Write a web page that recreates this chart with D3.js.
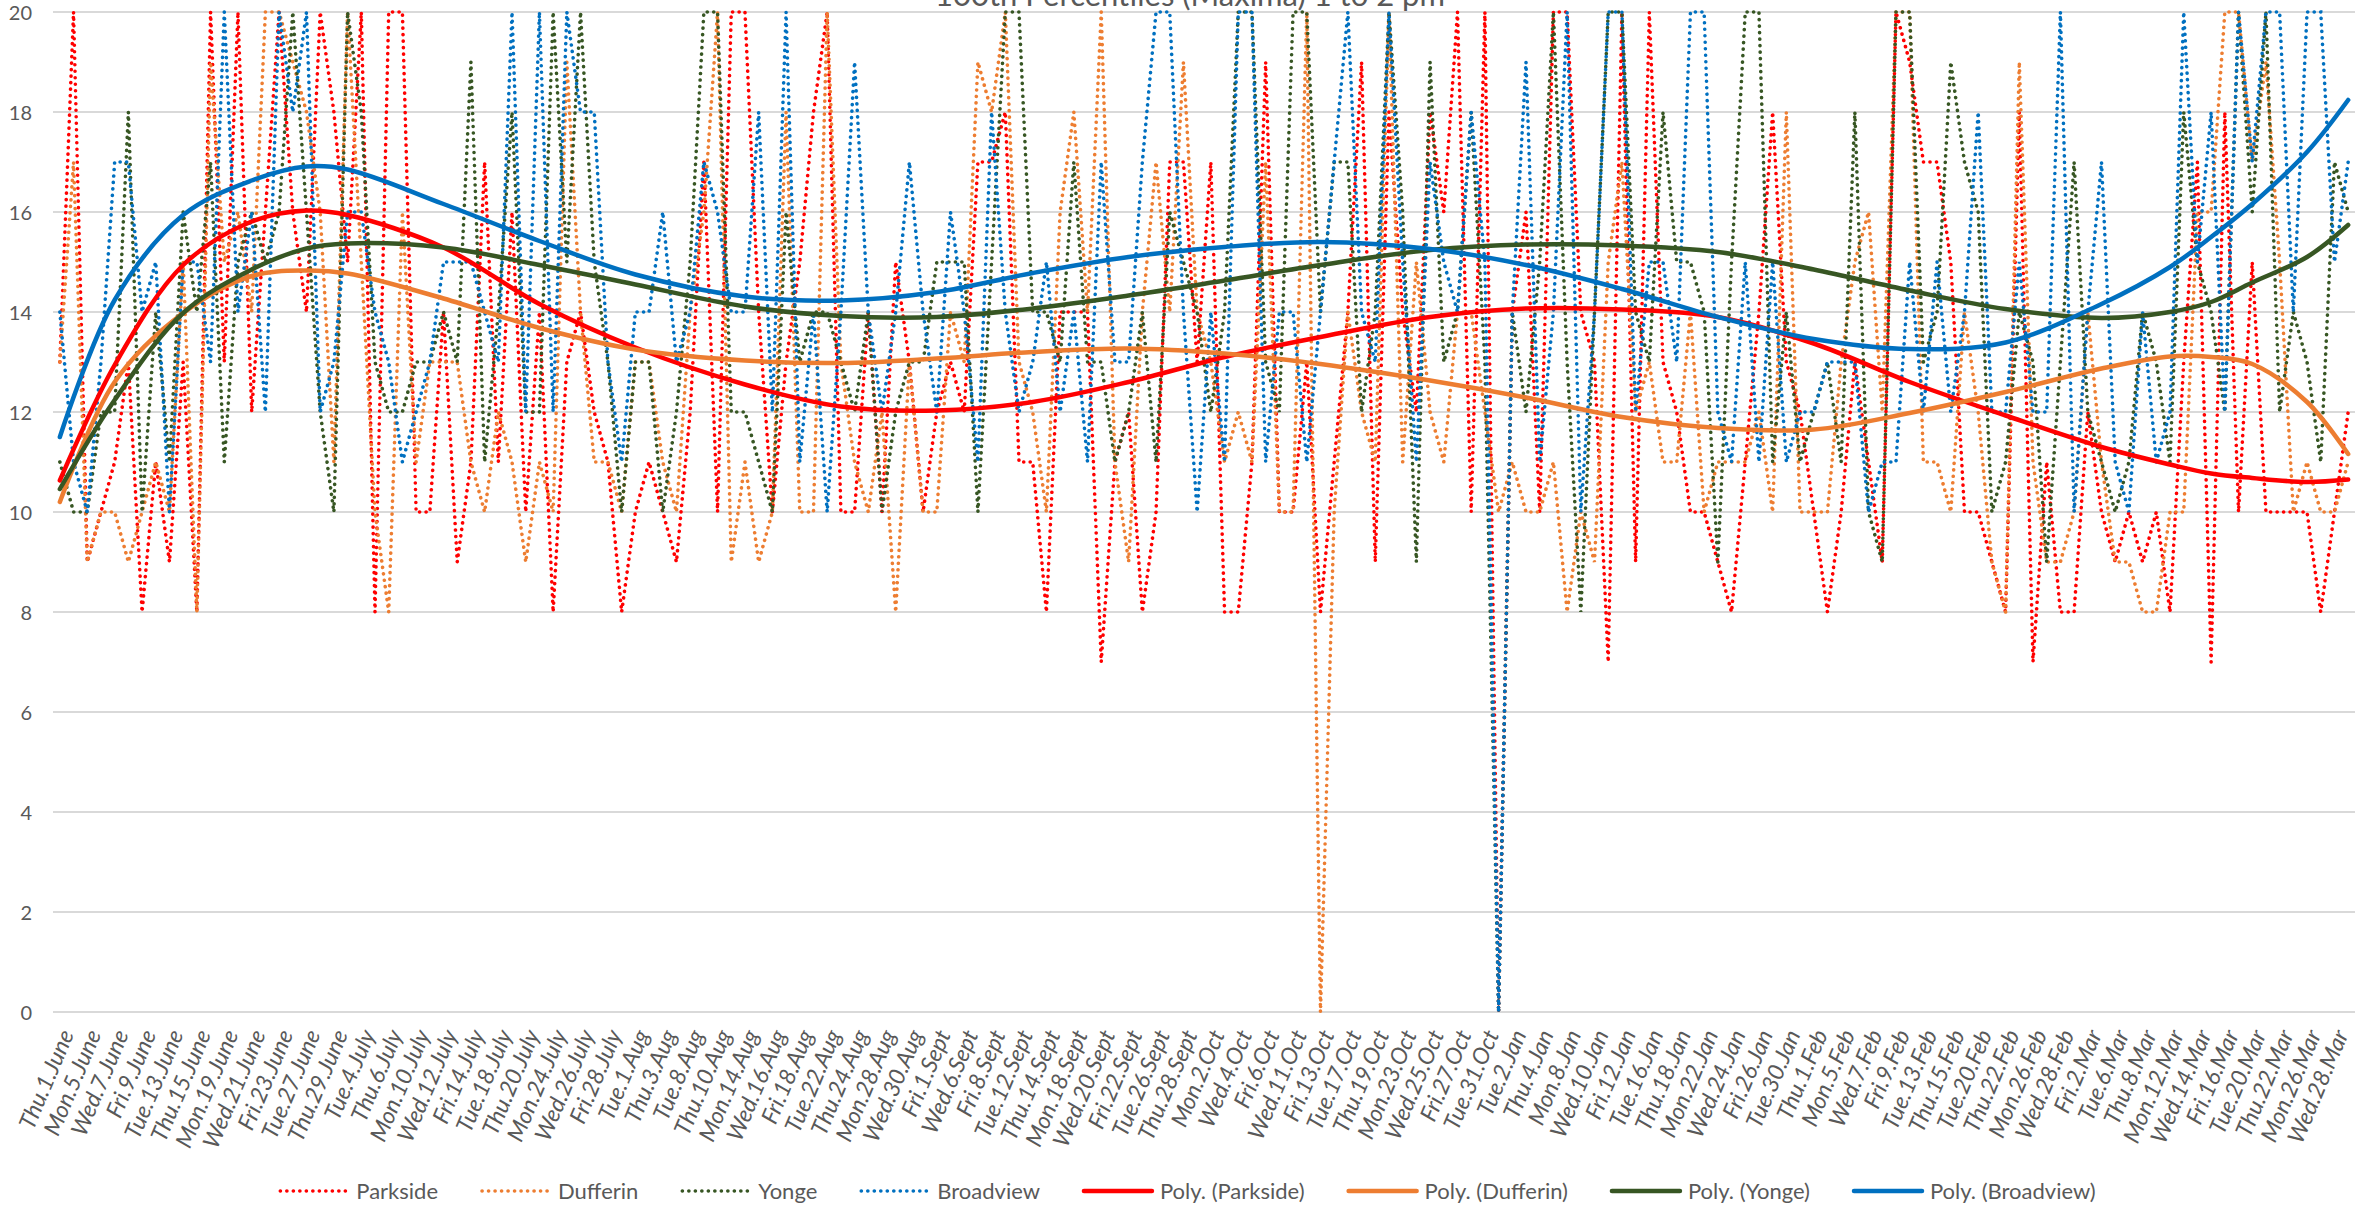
<!DOCTYPE html>
<html><head><meta charset="utf-8">
<script src="https://cdn.jsdelivr.net/npm/d3@7"></script>
<style>
html,body{margin:0;padding:0;background:#fff;}
svg{display:block;font-family:Lato,"Open Sans",sans-serif;}
</style></head>
<body>
<svg id="chart" width="2374" height="1209"></svg>
<script>
const title = "100th Percentiles (Maxima) 1 to 2 pm";
const seriesNames = ["Parkside","Dufferin","Yonge","Broadview"];
const seriesColors = ["#FF0000","#ED7D31","#375623","#0070C0"];
const yTicks = [0,2,4,6,8,10,12,14,16,18,20];

const tickLabels = ["Thu.1.June","Mon.5.June","Wed.7.June","Fri.9.June","Tue.13.June","Thu.15.June","Mon.19.June","Wed.21.June","Fri.23.June","Tue.27.June","Thu.29.June",
"Tue.4.July","Thu.6.July","Mon.10.July","Wed.12.July","Fri.14.July","Tue.18.July","Thu.20.July","Mon.24.July","Wed.26.July","Fri.28.July",
"Tue.1.Aug","Thu.3.Aug","Tue.8.Aug","Thu.10.Aug","Mon.14.Aug","Wed.16.Aug","Fri.18.Aug","Tue.22.Aug","Thu.24.Aug","Mon.28.Aug","Wed.30.Aug",
"Fri.1.Sept","Wed.6.Sept","Fri.8.Sept","Tue.12.Sept","Thu.14.Sept","Mon.18.Sept","Wed.20.Sept","Fri.22.Sept","Tue.26.Sept","Thu.28.Sept",
"Mon.2.Oct","Wed.4.Oct","Fri.6.Oct","Wed.11.Oct","Fri.13.Oct","Tue.17.Oct","Thu.19.Oct","Mon.23.Oct","Wed.25.Oct","Fri.27.Oct","Tue.31.Oct",
"Tue.2.Jan","Thu.4.Jan","Mon.8.Jan","Wed.10.Jan","Fri.12.Jan","Tue.16.Jan","Thu.18.Jan","Mon.22.Jan","Wed.24.Jan","Fri.26.Jan","Tue.30.Jan",
"Thu.1.Feb","Mon.5.Feb","Wed.7.Feb","Fri.9.Feb","Tue.13.Feb","Thu.15.Feb","Tue.20.Feb","Thu.22.Feb","Mon.26.Feb","Wed.28.Feb",
"Fri.2.Mar","Tue.6.Mar","Thu.8.Mar","Mon.12.Mar","Wed.14.Mar","Fri.16.Mar","Tue.20.Mar","Thu.22.Mar","Mon.26.Mar","Wed.28.Mar"];

const parkside = [13,20,9,10,11,13,8,11,9,13,8,20,13,20,12,16,20,16,14,20,18,15,20,8,20,20,10,10,14,
9,11,17,11,16,10,14,8,13,14,12,11,8,10,11,10,9,12,17,10,20,20,14,10,13,15,18,20,
10,10,14,10,15,13,10,12,13,12,17,17,18,11,11,8,14,14,14,7,11,12,8,10,17,17,13,17,8,
8,11,19,10,10,13,8,11,14,19,9,18,14,12,18,16,20,10,20,0,14,16,10,20,20,14,13,7,
20,9,20,13,12,10,10,9,8,11,14,18,13,12,10,8,10,13,11,9,20,19,17,17,15,10,10,9,8,
18,7,11,8,8,12,10,9,10,9,10,8,13,17,7,18,10,15,10,10,10,10,8,10,12];

const dufferin = [13,17,9,10,10,9,10,11,10,15,8,19,15,16,14,20,20,19,18,16,11,20,15,10,8,16,11,13,13,
13,11,10,12,11,9,11,10,19,14,11,11,10,13,13,11,10,14,16,20,9,11,9,10,18,10,10,20,
13,11,10,12,8,13,10,10,14,13,19,18,20,13,12,10,16,18,14,20,11,9,14,17,14,19,14,13,11,
12,11,17,10,10,20,0,10,14,12,11,20,11,15,12,11,14,14,12,10,11,10,10,11,8,10,9,15,
17,12,13,11,11,14,10,11,11,11,12,10,18,10,10,10,13,15,16,12,20,20,11,11,10,14,12,9,8,
19,11,9,9,10,14,11,9,9,8,8,10,10,16,16,20,20,17,19,15,10,11,10,10,11];

const yonge = [11,10,10,12,12,18,10,14,11,16,14,17,11,15,16,15,16,20,16,12,10,20,18,13,12,12,13,13,14,
13,19,11,14,18,12,12,20,15,20,15,13,10,13,13,10,12,15,20,20,12,12,11,10,16,13,14,14,
13,12,14,10,12,13,13,15,15,15,10,15,20,20,14,14,13,17,13,13,11,12,14,11,16,15,14,12,14,
20,20,13,12,20,20,14,17,17,12,14,20,16,9,19,13,14,18,13,0,14,12,15,20,13,8,14,20,
20,14,13,18,15,15,14,9,15,20,20,11,14,11,12,13,11,18,10,9,20,20,13,14,19,17,16,10,11,
14,13,9,13,17,12,11,10,11,14,13,11,18,15,14,12,20,16,20,12,14,13,11,17,16];

const broadview = [14,11,10,13,17,17,14,15,10,15,15,13,20,14,16,12,20,18,20,12,13,16,16,14,13,11,12,13,15,
15,15,14,13,20,12,20,12,20,18,18,13,11,14,14,16,13,14,17,16,14,14,18,12,20,11,14,10,
14,19,14,12,14,17,14,12,16,14,11,18,14,12,13,15,12,14,11,17,13,13,17,20,20,14,10,14,11,
20,20,11,14,14,11,14,17,20,14,13,20,15,11,17,15,14,18,15,0,14,19,11,14,20,10,14,20,
20,12,15,15,13,20,20,12,11,15,11,15,11,12,12,13,13,13,10,11,11,15,12,15,12,14,18,12,12,
15,12,12,20,10,14,17,11,10,14,11,12,20,15,18,12,20,17,20,20,14,20,20,15,17];

// Polynomial trendline values at these category indices
const trendIdx = [0,4,9,14,18,21,28,35,42,50,57,64,71,78,85,92,100,107,114,121,128,135,142,149,154,157,160,164,167];
const polyParkside = [10.63,12.94,14.94,15.81,16.03,15.94,15.29,14.16,13.29,12.55,12.11,12.03,12.2,12.6,13.1,13.5,13.9,14.07,14.05,13.9,13.37,12.6,11.93,11.3,10.95,10.77,10.68,10.6,10.65];
const polyDufferin = [10.2,12.6,13.98,14.72,14.83,14.77,14.27,13.68,13.25,13.03,12.98,13.07,13.2,13.27,13.17,12.96,12.63,12.29,11.9,11.68,11.65,11.98,12.4,12.87,13.11,13.1,12.96,12.2,11.16];
const polyYonge = [10.46,12.24,13.98,14.85,15.27,15.37,15.29,14.94,14.55,14.11,13.92,13.9,14.07,14.33,14.63,14.94,15.24,15.35,15.33,15.2,14.85,14.43,14.06,13.88,14.0,14.2,14.59,15.1,15.74];
const polyBroadview = [11.5,14.24,15.94,16.63,16.91,16.85,16.16,15.42,14.75,14.31,14.23,14.4,14.78,15.1,15.3,15.4,15.26,14.94,14.46,13.9,13.46,13.26,13.39,14.16,14.9,15.5,16.16,17.2,18.24];

const series = [parkside, dufferin, yonge, broadview];
const polys = [polyParkside, polyDufferin, polyYonge, polyBroadview];
const N = parkside.length;

const svg = d3.select("#chart");
const plotLeft = 53, plotRight = 2355, plotTop = 12, plotBottom = 1012;
const x = d3.scaleBand().domain(d3.range(N)).range([plotLeft, plotRight]).padding(0);
const cx = i => x(i) + x.bandwidth()/2;
const y = d3.scaleLinear().domain([0,20]).range([plotBottom, plotTop]);
const textColor = "#595959";

// gridlines
svg.append("g").selectAll("line").data(yTicks).join("line")
  .attr("x1", plotLeft).attr("x2", plotRight)
  .attr("y1", d=>y(d)).attr("y2", d=>y(d))
  .attr("stroke", "#D9D9D9").attr("stroke-width", 2);

// y axis
const yAxis = svg.append("g").attr("transform", `translate(${plotLeft},0)`)
  .call(d3.axisLeft(y).tickValues(yTicks).tickSize(0).tickPadding(21));
yAxis.select(".domain").remove();
yAxis.selectAll("text").attr("fill", textColor).style("font-size","20px").style("font-family","Lato")
  .attr("dy","0.36em");

// x axis
const xAxis = svg.append("g").attr("transform", `translate(0,${plotBottom})`)
  .call(d3.axisBottom(x).tickValues(d3.range(0, N, 2)).tickFormat(i => tickLabels[i/2]).tickSize(0));
xAxis.select(".domain").remove();
xAxis.selectAll("text")
  .attr("fill", textColor).style("font-size","23px").style("font-family","Lato")
  .style("font-style","italic")
  .attr("x", 0).attr("y", 0).attr("dy", "0.35em")
  .attr("transform", "translate(7,19) rotate(-67)")
  .style("text-anchor", "end");

// data lines
const line = d3.line().x((d,i)=>cx(i)).y(d=>y(d));
series.forEach((s, k) => {
  svg.append("path").datum(s)
    .attr("d", line).attr("fill","none")
    .attr("stroke", seriesColors[k]).attr("stroke-width", 3.6)
    .attr("stroke-linecap","round").attr("stroke-dasharray","0.1 6.4");
});

// trendlines
const tline = d3.line().curve(d3.curveCatmullRom.alpha(0.5)).x((d,i)=>cx(trendIdx[i])).y(d=>y(d));
polys.forEach((p, k) => {
  svg.append("path").datum(p)
    .attr("d", tline).attr("fill","none")
    .attr("stroke", seriesColors[k]).attr("stroke-width", 4.5)
    .attr("stroke-linecap","round");
});

// title (partly above the top edge, as in the reference)
svg.append("text").attr("x", 1190).attr("y", 6)
  .attr("text-anchor","middle").attr("fill", textColor)
  .style("font-size","31px").style("font-family","Lato")
  .text(title);

// legend
const legendItems = seriesNames.map((n,k)=>({name:n, color:seriesColors[k], dotted:true}))
  .concat(seriesNames.map((n,k)=>({name:`Poly. (${n})`, color:seriesColors[k], dotted:false})));
const lg = svg.append("g");
const lineLen = 68, lineGap = 8, itemGap = 44, ly = 1191;
let cursor = 0;
legendItems.forEach(it => {
  const g = lg.append("g").attr("transform", `translate(${cursor},0)`);
  g.append("line").attr("x1",0).attr("x2",lineLen).attr("y1",ly).attr("y2",ly)
    .attr("stroke", it.color)
    .attr("stroke-width", it.dotted ? 3.6 : 4.5)
    .attr("stroke-linecap", "round")
    .attr("stroke-dasharray", it.dotted ? "0.1 6.4" : null);
  const t = g.append("text").attr("x", lineLen+lineGap).attr("y", ly).attr("dy","0.35em")
    .attr("fill", textColor).style("font-size","22px").style("font-family","Lato").text(it.name);
  cursor += lineLen + lineGap + t.node().getComputedTextLength() + itemGap;
});
const totalW = cursor - itemGap;
lg.attr("transform", `translate(${1188 - totalW/2},0)`);
</script>
</body></html>
